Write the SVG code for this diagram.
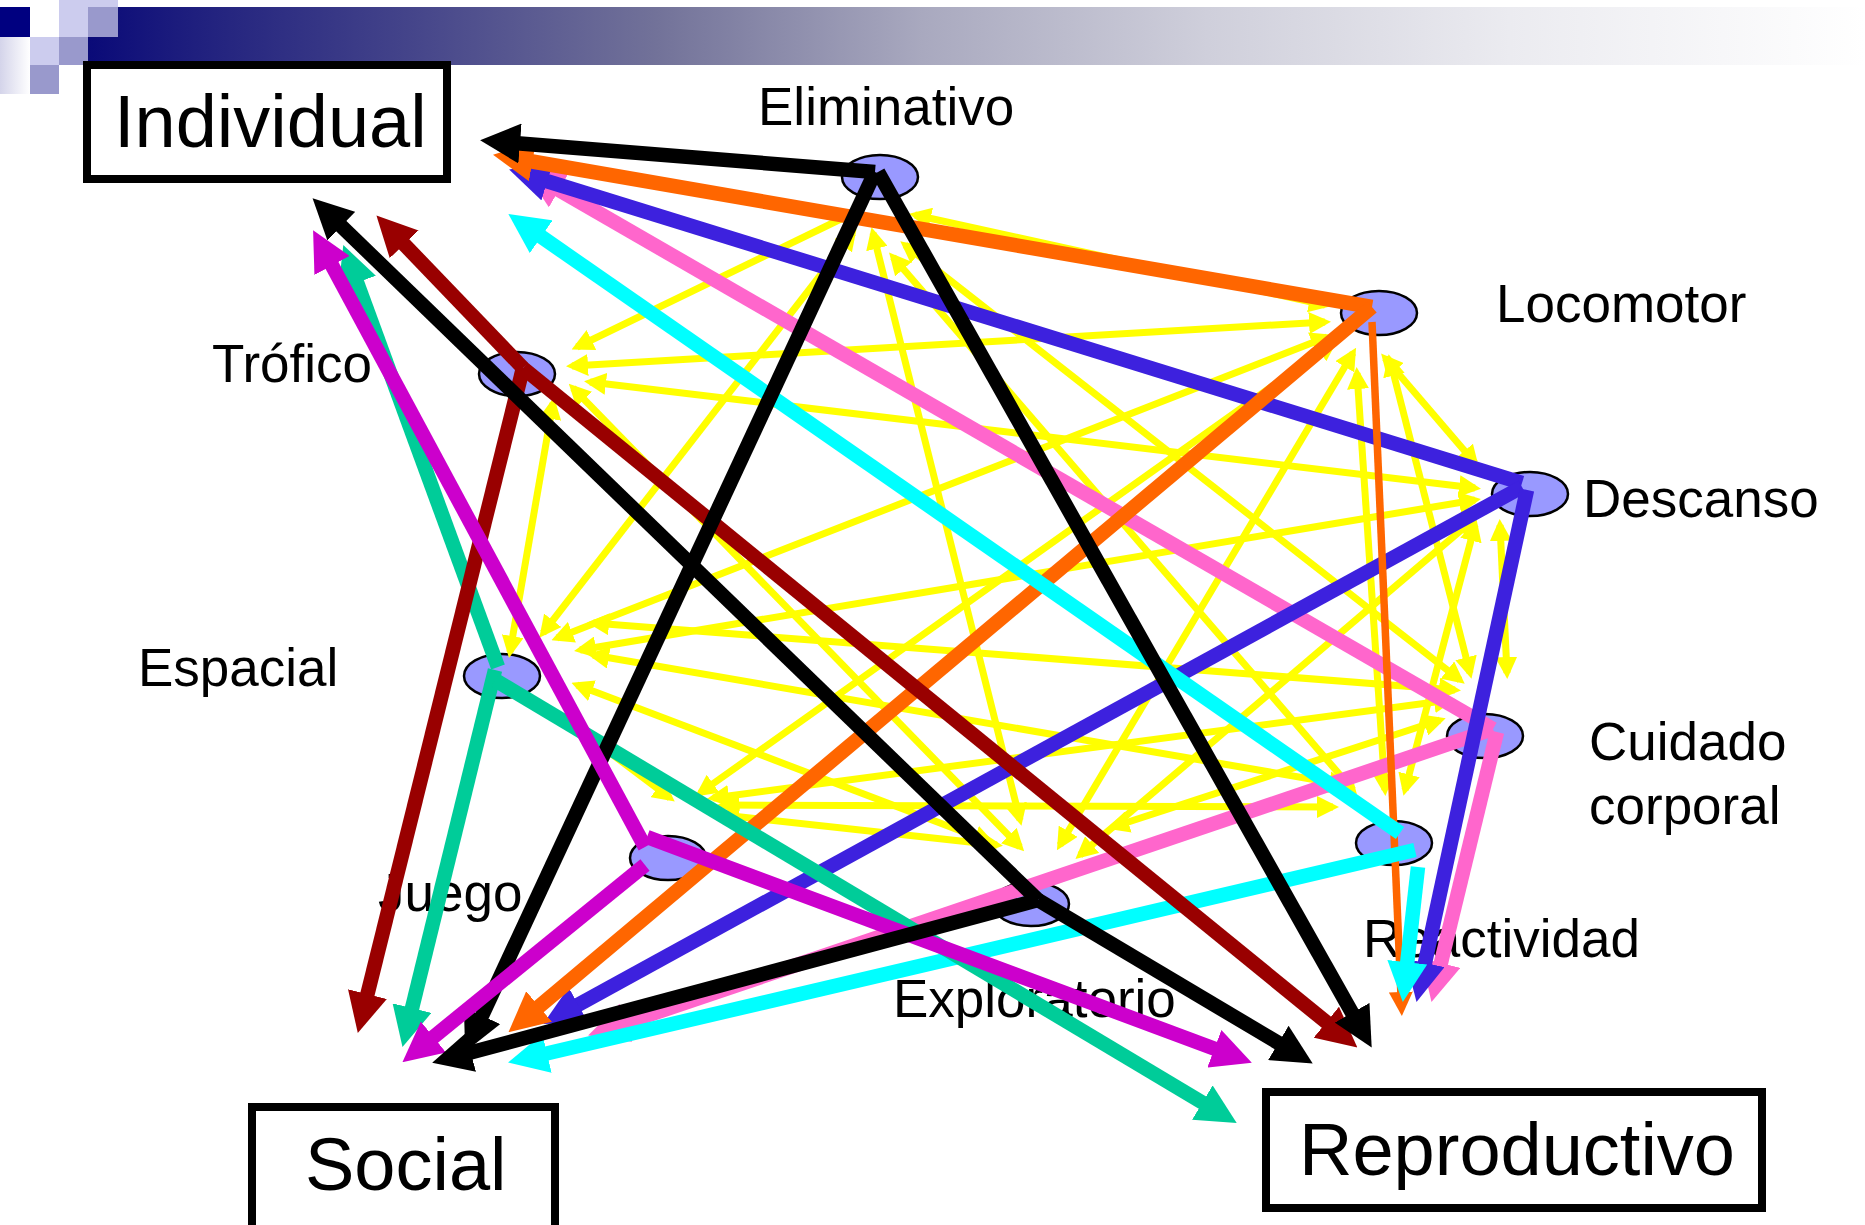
<svg xmlns="http://www.w3.org/2000/svg" width="1865" height="1225" viewBox="0 0 1865 1225">
<defs>
<style>
.lbl{font-family:"Liberation Sans",Arial,sans-serif;font-size:53px;fill:#000}
.bt{font-family:"Liberation Sans",Arial,sans-serif;font-size:74px;fill:#000}
.box{fill:#fff;stroke:#000;stroke-width:8}
.node{fill:#9999ff;stroke:#000;stroke-width:2.5}
.y{fill:none;stroke:#ffff00;stroke-width:7;marker-end:url(#ay)}
.yb{marker-start:url(#ay)}
.t{fill:none;stroke-width:14.5}
.k{stroke:#000;marker-end:url(#mk)}
.r{stroke:#990000;marker-end:url(#mr)}
.o{stroke:#ff6600;marker-end:url(#mo)}
.o2{fill:none;stroke:#ff6600;stroke-width:7.5;marker-end:url(#mo2)}
.b{stroke:#3d21de;marker-end:url(#mb)}
.p{stroke:#ff66cc;marker-end:url(#mp)}
.c{stroke:#00ffff;marker-end:url(#mc)}
.m{stroke:#cc00cc;marker-end:url(#mm)}
.g{stroke:#00cc99;marker-end:url(#mg)}
</style>
<linearGradient id="bar" x1="88" y1="0" x2="1865" y2="0" gradientUnits="userSpaceOnUse">
<stop offset="0" stop-color="#0a0a78"/>
<stop offset="0.08" stop-color="#262680"/>
<stop offset="0.18" stop-color="#44448a"/>
<stop offset="0.32" stop-color="#727299"/>
<stop offset="0.47" stop-color="#a9a9bf"/>
<stop offset="0.63" stop-color="#cfcfdb"/>
<stop offset="0.8" stop-color="#ebebf0"/>
<stop offset="1" stop-color="#ffffff"/>
</linearGradient>
<linearGradient id="fade" x1="0" y1="0" x2="1" y2="0">
<stop offset="0" stop-color="#d4d4ea"/>
<stop offset="1" stop-color="#ffffff"/>
</linearGradient>
<marker id="ay" markerUnits="userSpaceOnUse" markerWidth="22" markerHeight="22" viewBox="0 0 22 22" refX="16" refY="11" orient="auto-start-reverse"><path d="M0,0L22,11L0,22z" fill="#ffff00"/></marker>
<marker id="mk" markerUnits="userSpaceOnUse" markerWidth="40" markerHeight="40" viewBox="0 0 40 40" refX="6" refY="20" orient="auto"><path d="M0,0L40,20L0,40z" fill="#000"/></marker>
<marker id="mr" markerUnits="userSpaceOnUse" markerWidth="40" markerHeight="40" viewBox="0 0 40 40" refX="6" refY="20" orient="auto"><path d="M0,0L40,20L0,40z" fill="#990000"/></marker>
<marker id="mo" markerUnits="userSpaceOnUse" markerWidth="40" markerHeight="40" viewBox="0 0 40 40" refX="6" refY="20" orient="auto"><path d="M0,0L40,20L0,40z" fill="#ff6600"/></marker>
<marker id="mo2" markerUnits="userSpaceOnUse" markerWidth="24" markerHeight="24" viewBox="0 0 24 24" refX="4" refY="12" orient="auto"><path d="M0,0L24,12L0,24z" fill="#ff6600"/></marker>
<marker id="mb" markerUnits="userSpaceOnUse" markerWidth="40" markerHeight="40" viewBox="0 0 40 40" refX="6" refY="20" orient="auto"><path d="M0,0L40,20L0,40z" fill="#3d21de"/></marker>
<marker id="mp" markerUnits="userSpaceOnUse" markerWidth="40" markerHeight="40" viewBox="0 0 40 40" refX="6" refY="20" orient="auto"><path d="M0,0L40,20L0,40z" fill="#ff66cc"/></marker>
<marker id="mc" markerUnits="userSpaceOnUse" markerWidth="40" markerHeight="40" viewBox="0 0 40 40" refX="6" refY="20" orient="auto"><path d="M0,0L40,20L0,40z" fill="#00ffff"/></marker>
<marker id="mm" markerUnits="userSpaceOnUse" markerWidth="40" markerHeight="40" viewBox="0 0 40 40" refX="6" refY="20" orient="auto"><path d="M0,0L40,20L0,40z" fill="#cc00cc"/></marker>
<marker id="mg" markerUnits="userSpaceOnUse" markerWidth="40" markerHeight="40" viewBox="0 0 40 40" refX="6" refY="20" orient="auto"><path d="M0,0L40,20L0,40z" fill="#00cc99"/></marker>
</defs>
<rect width="1865" height="1225" fill="#fff"/>
<g id="header">
<rect x="88" y="7" width="1777" height="58" fill="url(#bar)"/>
<rect x="0" y="37" width="30" height="57" fill="url(#fade)"/>
<rect x="59" y="0" width="59" height="7" fill="#ccccee"/>
<rect x="0" y="7" width="30" height="30" fill="#000080"/>
<rect x="59" y="7" width="30" height="30" fill="#ccccee"/>
<rect x="88" y="7" width="30" height="30" fill="#9999cc"/>
<rect x="30" y="37" width="29" height="28" fill="#ccccee"/>
<rect x="59" y="37" width="29" height="28" fill="#9999cc"/>
<rect x="30" y="65" width="29" height="29" fill="#9999cc"/>
</g>
<g id="box-individual"><rect class="box" x="87" y="65" width="360" height="114"/><text class="bt" x="114" y="147">Individual</text></g>
<g id="box-social"><rect class="box" x="252" y="1107" width="303" height="130"/><text class="bt" x="305" y="1190">Social</text></g>
<g id="box-reproductivo"><rect class="box" x="1266" y="1092" width="496" height="116"/><text class="bt" x="1299" y="1175">Reproductivo</text></g>
<g id="n-eliminativo"><text class="lbl" x="758" y="125">Eliminativo</text><ellipse class="node" cx="880" cy="177" rx="38" ry="22"/></g>
<g id="n-locomotor"><text class="lbl" x="1496" y="322">Locomotor</text><ellipse class="node" cx="1379" cy="313" rx="38" ry="22"/></g>
<g id="n-trofico"><text class="lbl" x="212" y="382">Trófico</text><ellipse class="node" cx="517" cy="374" rx="38" ry="22"/></g>
<g id="n-descanso"><text class="lbl" x="1583" y="517">Descanso</text><ellipse class="node" cx="1530" cy="494" rx="38" ry="22"/></g>
<g id="n-espacial"><text class="lbl" x="138" y="686">Espacial</text><ellipse class="node" cx="502" cy="676" rx="38" ry="22"/></g>
<g id="n-cuidado"><text class="lbl" x="1589" y="760">Cuidado</text><text class="lbl" x="1589" y="824">corporal</text><ellipse class="node" cx="1485" cy="736" rx="38" ry="22"/></g>
<g id="n-reactividad"><text class="lbl" x="1363" y="957">Reactividad</text><ellipse class="node" cx="1394" cy="843" rx="38" ry="22"/></g>
<g id="n-juego"><text class="lbl" x="378" y="911">Juego</text><ellipse class="node" cx="668" cy="858" rx="38" ry="22"/></g>
<g id="n-exploratorio"><text class="lbl" x="893" y="1017">Exploratorio</text><ellipse class="node" cx="1031" cy="904" rx="38" ry="22"/></g>
<g id="connectors">
<g id="yellow">
<line class="y" x1="843" y1="218" x2="577" y2="347"/>
<line class="y yb" x1="915" y1="215" x2="1325" y2="305"/>
<line class="y yb" x1="572" y1="366" x2="1325" y2="322"/>
<line class="y yb" x1="590" y1="382" x2="1475" y2="488"/>
<line class="y yb" x1="573" y1="388" x2="1020" y2="847"/>
<line class="y yb" x1="553" y1="403" x2="510" y2="652"/>
<line class="y yb" x1="543" y1="633" x2="853" y2="233"/>
<line class="y yb" x1="1020" y1="820" x2="873" y2="233"/>
<line class="y yb" x1="1353" y1="790" x2="893" y2="257"/>
<line class="y yb" x1="905" y1="245" x2="1460" y2="680"/>
<line class="y yb" x1="1385" y1="358" x2="1475" y2="463"/>
<line class="y yb" x1="700" y1="793" x2="1333" y2="343"/>
<line class="y yb" x1="713" y1="798" x2="1450" y2="700"/>
<line class="y yb" x1="723" y1="805" x2="1333" y2="807"/>
<line class="y yb" x1="723" y1="815" x2="997" y2="845"/>
<line class="y" x1="560" y1="715" x2="670" y2="798"/>
<line class="y yb" x1="557" y1="638" x2="1327" y2="337"/>
<line class="y yb" x1="593" y1="623" x2="1455" y2="690"/>
<line class="y yb" x1="580" y1="650" x2="1475" y2="500"/>
<line class="y yb" x1="593" y1="655" x2="1345" y2="785"/>
<line class="y yb" x1="577" y1="685" x2="990" y2="842"/>
<line class="y yb" x1="1473" y1="520" x2="1080" y2="855"/>
<line class="y yb" x1="1475" y1="525" x2="1405" y2="790"/>
<line class="y yb" x1="1500" y1="525" x2="1507" y2="673"/>
<line class="y yb" x1="1390" y1="360" x2="1470" y2="673"/>
<line class="y yb" x1="1385" y1="790" x2="1357" y2="373"/>
<line class="y yb" x1="1060" y1="845" x2="1353" y2="353"/>
<line class="y yb" x1="1113" y1="827" x2="1440" y2="720"/>
</g>
<g id="thick">
<line class="t p" x1="1493" y1="729" x2="553.7" y2="187"/>
<line class="t p" x1="1493" y1="729" x2="620.3" y2="1024.7"/>
<line class="t p" x1="1497" y1="732" x2="1439.5" y2="968.9"/>
<line class="t b" x1="1522" y1="483" x2="541.6" y2="179.5"/>
<line class="t b" x1="1522" y1="487" x2="573" y2="1007.6"/>
<line class="t b" x1="1527" y1="490" x2="1423.7" y2="968.7"/>
<line class="t o" x1="1372" y1="307" x2="526.5" y2="160.5"/>
<line class="t o" x1="1372" y1="307" x2="534.5" y2="1010.4"/>
<line class="o2" x1="1372" y1="322" x2="1401" y2="996"/>
<line class="t c" x1="1400" y1="833" x2="536.3" y2="233.3"/>
<line class="t c" x1="1415" y1="850" x2="541.2" y2="1054.7"/>
<line class="t c" x1="1418" y1="867" x2="1406.6" y2="968.2"/>
<line class="t g" x1="498" y1="667" x2="355" y2="277"/>
<line class="t g" x1="495" y1="670" x2="410.6" y2="1013.9"/>
<line class="t g" x1="495" y1="680" x2="1207.5" y2="1105.6"/>
<line class="t r" x1="523" y1="368" x2="400" y2="240"/>
<line class="t r" x1="523" y1="368" x2="366" y2="1000"/>
<line class="t r" x1="523" y1="368" x2="1331" y2="1026"/>
<line class="t k" x1="875" y1="172" x2="514" y2="143"/>
<line class="t k" x1="875" y1="172" x2="479.5" y2="1021"/>
<line class="t k" x1="878" y1="172" x2="1355" y2="1018"/>
<line class="t m" x1="645" y1="847" x2="329.2" y2="260.2"/>
<line class="t m" x1="645" y1="865" x2="428.8" y2="1040.8"/>
<line class="t m" x1="647" y1="837" x2="1220" y2="1050.8"/>
<line class="t k" x1="1038" y1="900" x2="337" y2="222"/>
<line class="t k" x1="1038" y1="900" x2="465" y2="1054"/>
<line class="t k" x1="1038" y1="900" x2="1283.5" y2="1046"/>
</g>
</g>
</svg>
